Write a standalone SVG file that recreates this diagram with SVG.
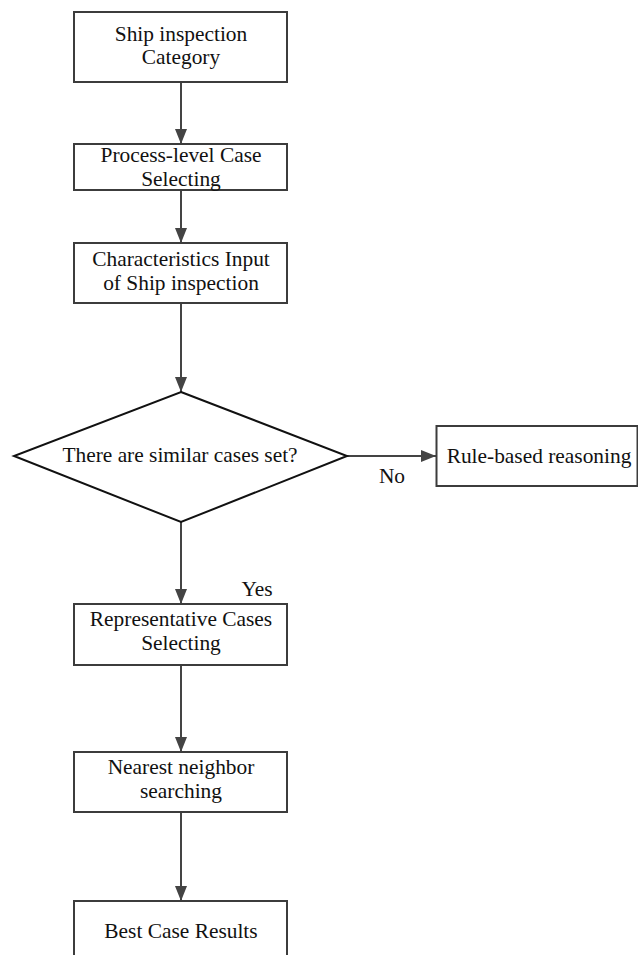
<svg xmlns="http://www.w3.org/2000/svg" width="638" height="955" viewBox="0 0 638 955">
<defs>
<style>
.box{fill:#fff;stroke:#3c3c3c;stroke-width:2}
.dia{fill:#fff;stroke:#111;stroke-width:2}
.t{font-family:"Liberation Serif","Times New Roman",serif;font-size:21.4px;fill:#111;text-anchor:middle}
.c{stroke:#444;stroke-width:2;fill:none;marker-end:url(#ah)}
</style>
<marker id="ah" markerUnits="userSpaceOnUse" markerWidth="16" markerHeight="14" refX="15" refY="6" orient="auto">
<path d="M0,0 L15,6 L0,12 z" fill="#444"/>
</marker>
</defs>
<rect width="638" height="955" fill="#fff"/>
<g id="connectors">
<line class="c" x1="181" y1="82" x2="181" y2="144"/>
<line class="c" x1="181" y1="190" x2="181" y2="243"/>
<line class="c" x1="181" y1="303" x2="181" y2="392"/>
<line class="c" x1="347" y1="456" x2="436" y2="456"/>
<line class="c" x1="181" y1="522" x2="181" y2="604"/>
<line class="c" x1="181" y1="665" x2="181" y2="752"/>
<line class="c" x1="181" y1="812" x2="181" y2="901"/>
<text class="t" x="392" y="483">No</text>
<text class="t" x="257" y="596">Yes</text>
</g>
<g id="n1">
<rect class="box" x="74" y="12" width="213" height="70"/>
<text class="t" x="181" y="41">Ship inspection</text>
<text class="t" x="181" y="64">Category</text>
</g>
<g id="n2">
<rect class="box" x="74" y="144" width="213" height="46"/>
<text class="t" x="181" y="162">Process-level Case</text>
<text class="t" x="181" y="186">Selecting</text>
</g>
<g id="n3">
<rect class="box" x="74" y="243" width="213" height="60"/>
<text class="t" x="181" y="266">Characteristics Input</text>
<text class="t" x="181" y="290">of Ship inspection</text>
</g>
<g id="n4">
<polygon class="dia" points="181,392 347,456 181,522 14,456"/>
<text class="t" x="180" y="462">There are similar cases set?</text>
</g>
<g id="n5">
<rect class="box" x="436.5" y="426" width="201" height="60"/>
<text class="t" x="539" y="463">Rule-based reasoning</text>
</g>
<g id="n6">
<rect class="box" x="74" y="604" width="213" height="61"/>
<text class="t" x="181" y="626">Representative Cases</text>
<text class="t" x="181" y="650">Selecting</text>
</g>
<g id="n7">
<rect class="box" x="74" y="752" width="213" height="60"/>
<text class="t" x="181" y="774">Nearest neighbor</text>
<text class="t" x="181" y="798">searching</text>
</g>
<g id="n8">
<rect class="box" x="74" y="901" width="213" height="70"/>
<text class="t" x="181" y="938">Best Case Results</text>
</g>
</svg>
